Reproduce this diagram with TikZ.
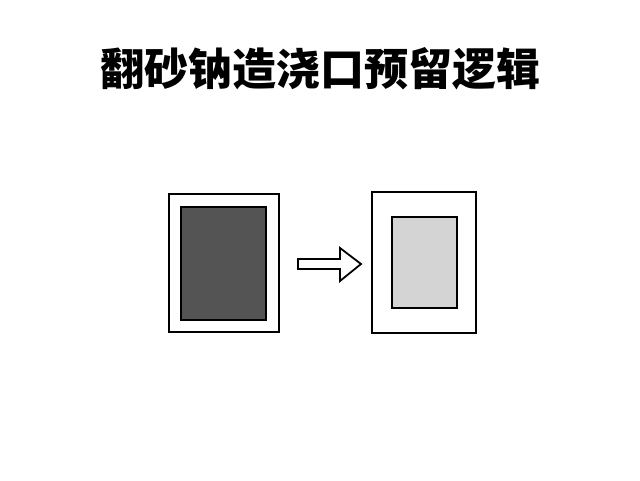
\documentclass[tikz,border=0pt]{standalone}
\usepackage{fontspec}
\newfontfamily\cjk{Noto Sans CJK SC}
\begin{document}
\begin{tikzpicture}[x=1pt,y=1pt,line join=miter]
% Parameters
\def\lw{1.8pt};
\def\darkFill{black!67};
\def\lightFill{black!17};

\tikzset{frame/.style={draw=black,line width=\lw,fill=white,inner sep=0pt,outer sep=0pt}}

% Canvas
\useasboundingbox[fill=white] (0,0) rectangle (640,480);

% Title
\node (title) at (320,411) {\cjk\bfseries\fontsize{44}{48}\selectfont 翻砂钠造浇口预留逻辑};

% Left mould (before)
\node[frame,minimum width=110,minimum height=138] (leftFrame) at (224,217) {};
\node[frame,fill=\darkFill,minimum width=85,minimum height=113] (leftCore) at (223.5,216.5) {};

% Right mould (after)
\node[frame,minimum width=104,minimum height=141] (rightFrame) at (424,217.5) {};
\node[frame,fill=\lightFill,minimum width=65,minimum height=91] (rightCore) at (424.5,217.5) {};

% Arrow
\draw[line width=\lw,fill=white] (298,221) -- (340,221) -- (340,232) -- (361,216) -- (340,199) -- (340,211) -- (298,211) -- cycle;

\end{tikzpicture}
\end{document}
